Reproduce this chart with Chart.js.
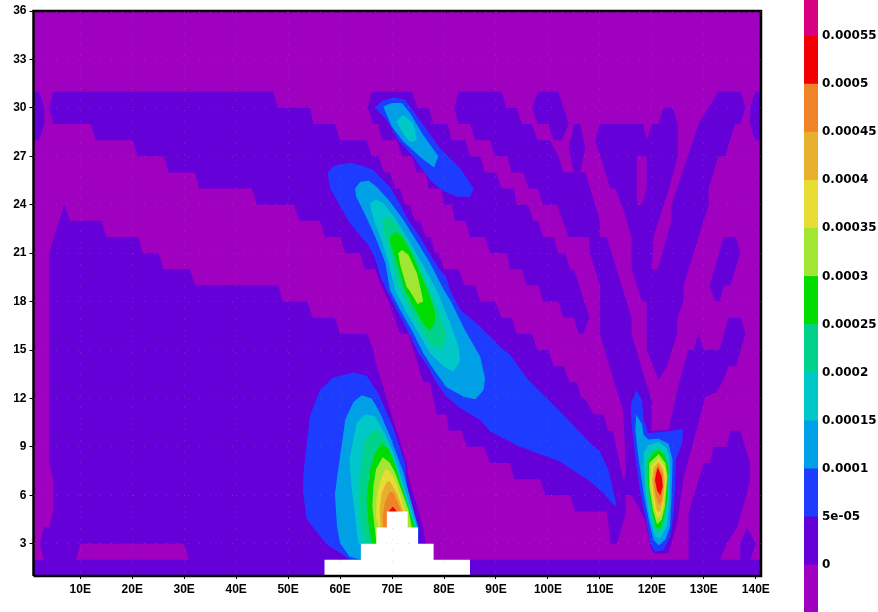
<!DOCTYPE html>
<html>
<head>
<meta charset="utf-8">
<style>
  html, body { margin: 0; padding: 0; background: #fff; }
  canvas { position: absolute; top: 0; }
</style>
</head>
<body>
<canvas id="map" width="878" height="612" style="left:0"></canvas>
<canvas id="bar" width="74" height="612" style="left:804px"></canvas>

<script src="https://cdn.jsdelivr.net/npm/chart.js"></script>
<script>
  // axes
  const lonTicks = [10, 20, 30, 40, 50, 60, 70, 80, 90, 100, 110, 120, 130, 140];
  const latTicks = [3, 6, 9, 12, 15, 18, 21, 24, 27, 30, 33, 36];

  // colour key
  const keyLevels = [0, 5e-5, 1e-4, 1.5e-4, 2e-4, 2.5e-4, 3e-4, 3.5e-4, 4e-4, 4.5e-4, 5e-4, 5.5e-4];
  const keyLabels = ['0', '5e-05', '0.0001', '0.00015', '0.0002', '0.00025', '0.0003', '0.00035', '0.0004', '0.00045', '0.0005', '0.00055'];
  const keyColors = ['#a000c0', '#6600d8', '#1e3cff', '#00a0e6', '#00c8c8', '#00d28c', '#00dc00', '#a0e632', '#e6dc32', '#e6af2d', '#f08228', '#f00000', '#d80080'];

  // contour outlines as [lon, lat]
  const baseField = [[1, 1], [1, 36], [141, 36], [141, 1]];

  const zeroSouthWest = [[1, 1], [1, 2], [3, 2], [2.2, 3], [3, 4], [4, 4], [4.8, 5], [4.8, 7], [4, 8], [4, 21], [6.9, 24], [8, 23], [14, 23], [15.1, 22], [21.2, 22], [22, 21], [25.1, 21], [26, 20], [31.1, 20], [32.1, 19], [48.1, 19], [49, 18], [53.6, 18], [54.8, 17], [59, 17], [60, 16], [65.2, 16], [66.4, 15], [66.7, 14.4], [72.8, 8], [73.1, 7.2], [76, 4], [76.5, 3], [78, 2], [141, 2], [141, 1]];
  const zeroBand = [[4, 30], [4.8, 31], [47.1, 31], [48, 30], [54.2, 30], [54.9, 29], [59, 29], [60, 28], [65.1, 28], [66.1, 27], [67.4, 27], [68.5, 26], [69.6, 26], [70.6, 25], [71.5, 25], [72.5, 24], [73.4, 24], [74.4, 23], [75.4, 23], [76.5, 22], [77.4, 22], [78.3, 21], [79, 21], [80, 20], [82.8, 20], [84, 19], [86, 19], [87, 18], [89.8, 18], [91.1, 17], [93, 17], [94, 16], [96.9, 16], [98, 15], [100.1, 15], [101.1, 14], [103, 14], [104.2, 13], [105.5, 13], [106.5, 12], [107.2, 12], [108.8, 11], [110.7, 11], [111.6, 10], [112.5, 10], [114.5, 6.95], [115, 7.4], [114.5, 11.2], [112.6, 13.15], [110, 16], [110, 19], [108.1, 21], [107.8, 22], [104, 22], [101.7, 24], [99.1, 24], [98, 25], [96.3, 25], [95.2, 26], [93, 26], [92.1, 27], [89.8, 27], [88.9, 28], [86, 28], [85, 29], [82.8, 29], [82, 30], [82.8, 31], [91.1, 31], [92, 30], [94, 30], [95, 29], [96.9, 29], [98, 28], [100.4, 28], [102, 27], [103, 26], [107.2, 26], [110, 23], [110, 22], [111.3, 22], [116.1, 17], [116.1, 16], [118.7, 13.15], [120, 11.9], [119.9, 10.05], [120, 10], [123.2, 10.05], [125.4, 13.15], [127, 15], [128, 15], [129, 16], [129.9, 15], [133, 15], [134.75, 17], [137.1, 17], [138, 16], [136.2, 14], [134.75, 14], [133.8, 13.15], [132.5, 12.4], [130.3, 12.1], [127.05, 8.2], [126.1, 7.1], [124.9, 4.3], [123.2, 2.4], [120.6, 2.4], [119.9, 2.6], [118.7, 4.5], [116.1, 6], [114.9, 6], [115, 4.9], [113.3, 3], [112.1, 3], [111.3, 5], [105.2, 5], [104.3, 6], [99.5, 6], [98.5, 7], [93.5, 7], [92.7, 8], [88.9, 8], [87.6, 9], [84.4, 9], [83.4, 10], [80.9, 10], [80.5, 11], [78.6, 11], [77.3, 13], [76, 13], [73.15, 16], [71.55, 16], [69.3, 18], [68.3, 18.7], [66.7, 20], [64.8, 20], [63.85, 21], [61, 21], [60, 22], [57.1, 22], [56.1, 23], [52.2, 23], [51.1, 24], [44, 24], [43, 25], [32.9, 25], [32.1, 26], [27, 26], [26.1, 27], [21, 27], [20.1, 28], [13, 28], [12, 29], [4.8, 29]];
  const zeroBlob = [[66.1, 31], [73.8, 31], [74.9, 30], [77, 30], [78, 29], [80.7, 29], [81.5, 28], [84.06, 28], [85, 27], [87, 27], [87.9, 26], [90, 26], [91.1, 25], [93.4, 25], [94, 24], [96.2, 24], [97.2, 23], [98, 23], [99.1, 22], [101.1, 22], [102, 21], [103.3, 21], [104.3, 20], [105, 20], [108, 17], [106.8, 16], [105.9, 16], [105, 17], [103, 17], [102, 18], [99.1, 18], [98.2, 19], [95.9, 19], [95, 20], [92.7, 20], [92.1, 21], [88.9, 21], [87.9, 22], [85, 22], [84.1, 23], [82.1, 23], [81.5, 24], [80, 24], [79.5, 25], [77, 25], [76.5, 26], [74.8, 26], [73.8, 27], [71.9, 27], [70.9, 28], [68, 28], [67.4, 29], [66.4, 29], [65.3, 30]];
  const zeroFork = [[109.1, 28], [110, 29], [118.3, 29], [119, 28], [120, 29], [121.3, 29], [122.2, 30], [124, 30], [125, 29], [125, 27], [123.2, 24.9], [120.3, 22], [120, 20], [121.1, 20], [123.8, 23], [123.8, 24], [124.8, 25], [129, 29], [130.9, 30], [132.8, 31], [137.1, 31], [138, 30], [137, 29], [136, 29], [134.1, 27], [132.8, 27], [130.9, 25], [130.9, 24], [126.1, 19], [126.1, 18], [124.9, 17], [124.9, 16], [122.9, 14], [121.3, 13.15], [119, 15], [119, 18], [118.1, 18], [116.1, 20], [116.1, 22], [114.2, 24], [112.9, 25], [112, 25]];
  const zeroLobeA = [[97, 30], [98, 31], [102, 31], [104, 29], [102.7, 28], [101.1, 28], [100.1, 29], [98, 29]];
  const zeroLobeB = [[105, 29], [106.2, 29], [107.2, 27.5], [106.2, 26], [105, 26], [104, 27.5]];
  const zeroLobeC = [[139.9, 31], [141, 31], [141, 28], [139.9, 28], [138.9, 29], [138.9, 30]];
  const zeroLobeD = [[133.8, 22], [136.2, 22], [137, 21], [135.1, 19], [133.9, 19], [133, 18], [132.2, 18], [131.1, 19]];
  const zeroLobeE = [[127.05, 2], [127.05, 4.9], [130, 8], [131.2, 8], [131.9, 9], [134.4, 9], [135.1, 10], [137, 10], [138.9, 8], [138.9, 7], [138.2, 6], [136.4, 4], [134.4, 3], [133.1, 2]];
  const zeroLobeF = [[137, 3], [138.3, 4], [140, 3], [138.9, 2], [137, 2]];
  const zeroLobeG = [[1, 31], [2.1, 31], [3.1, 30], [3.1, 29], [2.1, 28], [1, 28]];
  const holeSouth = [[9.2, 2], [10, 3], [30, 3], [30.9, 2]];
  const holeFork = [[117.1, 27], [119, 27], [119, 25], [118.1, 24], [117.1, 24]];

  const b5Lobe = [[61.8, 2], [60.6, 2.3], [57.4, 2.96], [53.6, 4.5], [52.9, 6.1], [52.9, 7.2], [53.3, 8.4], [54.2, 10.9], [56.1, 12.5], [58.7, 13.3], [62.6, 13.6], [65.1, 13.4], [67.4, 12.3], [70.3, 10.1], [72.5, 8], [73, 6.15], [75.2, 4], [75, 2]];
  const b5Blob = [[66.74, 30], [68, 30.43], [70.3, 30.66], [72.5, 30.5], [74.4, 29.67], [76.7, 28.63], [79.25, 27.5], [83.1, 26.26], [85.7, 25], [85, 24.5], [82.5, 24.5], [79.6, 24.9], [77.3, 25.54], [73.8, 27.1], [71.2, 28], [69, 29.25]];
  const b5Plume = [[57.6, 25.95], [58.7, 26.4], [61.9, 26.6], [64.8, 26.35], [66.4, 26.15], [69.6, 25.1], [71.6, 24], [73.2, 23], [75.4, 22], [77.2, 21], [79.1, 20], [80.4, 19.5], [81.2, 18.7], [83.1, 17.5], [86.95, 16.45], [90.8, 15.2], [92.7, 14.7], [96.2, 13.15], [102.3, 11.2], [108.1, 9.25], [110, 8.7], [111.6, 7.6], [113.1, 5.5], [112.9, 5.3], [110.6, 6.15], [108.1, 6.85], [102.3, 8.1], [94.6, 9], [88.9, 9.95], [86.95, 10.67], [83.1, 11.4], [80.5, 12.1], [78.6, 12.94], [76.7, 14.07], [75.1, 14.8], [73.15, 16.1], [70.9, 17.5], [69, 18.7], [68, 19.35], [66.7, 20.7], [65.45, 21.5], [63.85, 22.1], [61.9, 22.85], [60, 23.9], [58.1, 25]];
  const b5Core = [[116, 11.7], [117, 12.5], [118.1, 11.9], [118.4, 10.7], [119.3, 9.85], [122.9, 9.95], [124.8, 10.05], [126, 10.1], [125.8, 9.2], [124.6, 8.2], [124.5, 6.95], [124.2, 4.9], [123.5, 3.45], [122.2, 2.6], [120.6, 2.5], [119.7, 3], [119, 4.3], [117.8, 6.1], [116.8, 8.4], [116, 10.7]];

  const b10Lobe = [[64, 2], [61.8, 2.2], [60, 3.05], [59.4, 4.1], [59, 6.1], [59.9, 8.2], [61, 10.7], [62.6, 11.8], [64.2, 12.2], [66.1, 12], [67.7, 11.1], [69.6, 9.65], [72.2, 7.4], [75, 4], [75, 2]];
  const b10Blob = [[68.3, 30.08], [69.95, 30.3], [71.9, 30.3], [73.5, 29.67], [76, 28.3], [78.9, 27], [78.1, 26.3], [76, 26.8], [72.2, 27.9], [69.95, 28.84]];
  const b10Plume = [[62.9, 25], [63.85, 25.4], [65.45, 25.5], [67.05, 25.1], [69.6, 24.2], [72.2, 23.05], [74.8, 21.7], [77.3, 20.4], [80, 18.7], [81.2, 18.1], [84, 16.25], [86.95, 14.6], [87.9, 13.25], [87.6, 12.5], [86, 11.95], [83.75, 12.1], [80.5, 12.7], [78.3, 13.66], [76, 14.8], [74.1, 16.04], [71.55, 17.5], [69.6, 18.7], [68.7, 20.4], [67.4, 21.5], [66.1, 22.5], [64.5, 23.6], [63.1, 24.5]];
  const b10Core = [[117, 11], [118.1, 10.4], [118.4, 9.75], [119.3, 9.45], [121.3, 9.5], [123.2, 9.2], [124, 8.2], [123.8, 6.1], [123.5, 4.1], [122.6, 3.25], [121.3, 2.9], [120.3, 3.25], [119.5, 4.3], [118.4, 6.1], [117.4, 8.4], [116.8, 10.05]];

  const b15Lobe = [[63.5, 3], [62.9, 4.7], [62.2, 6.55], [61.8, 8.2], [63.2, 10.5], [64.8, 11], [66.7, 10.9], [68.4, 9.95], [70.3, 8.6], [72.5, 6.35], [74.8, 4], [74.8, 3]];
  const b15Blob = [[70.9, 29.15], [72.1, 29.56], [74.1, 29.05], [74.76, 28], [73.5, 27.87], [71.9, 28.5]];
  const b15Plume = [[65.8, 24.1], [66.9, 24.3], [68.3, 24.1], [70.6, 23.15], [73.2, 21.8], [75.7, 20.4], [78.6, 18.7], [81.2, 16.65], [82.8, 15.2], [83.1, 14.3], [81.8, 13.66], [79.9, 14], [77.3, 14.8], [74.75, 16.25], [72.5, 17.5], [70.6, 18.7], [69.3, 20.4], [68, 21.8], [66.7, 22.85], [65.9, 23.8]];
  const b15Core = [[118.4, 8.6], [119.3, 9.1], [121.3, 9.3], [122.9, 8.9], [123.5, 7.99], [123.4, 5.9], [122.9, 4.1], [121.6, 3.35], [120.6, 3.45], [119.5, 4.7], [118.7, 6.35]];

  const b20Lobe = [[65, 3], [64.2, 3.7], [63.5, 5.7], [63.7, 7], [64.8, 9.45], [66.1, 9.96], [67.4, 10.06], [68.7, 9.45], [70.9, 7.4], [72.5, 5.5], [74.6, 4], [74.6, 3]];
  const b20Plume = [[68.15, 23.05], [69.1, 23.3], [70.3, 23.05], [72.5, 22], [75.1, 20.4], [77.3, 18.7], [78.9, 17.5], [80.2, 16.25], [80.2, 15.4], [79.25, 14.96], [77.3, 15.4], [75.1, 16.45], [73.15, 17.7], [71.55, 18.7], [70.6, 19.75], [69.5, 21.2], [68.3, 22.4]];
  const b20Core = [[118.7, 8.2], [119.7, 8.7], [121.3, 9], [122.6, 8.7], [123.3, 7.8], [123, 5.5], [122.4, 4.3], [121.5, 3.65], [120.6, 3.85], [119.7, 5.1], [118.9, 6.55]];

  const b25Lobe = [[66.1, 3], [65.45, 4.3], [65.1, 5.93], [65.8, 7.6], [66.7, 8.6], [68, 9.23], [69.3, 8.9], [70.3, 8.2], [72.8, 5.6], [74.4, 4], [74.4, 3]];
  const b25Plume = [[69.6, 22], [70.6, 22.3], [71.9, 22], [73.8, 21], [76, 19.3], [77.3, 18.3], [78.3, 17.3], [78.2, 16.65], [77.2, 16.2], [76, 16.65], [74.1, 17.7], [72.5, 18.7], [71.9, 19.3], [70.9, 20.4], [69.75, 21.5]];
  const b25Core = [[119.3, 8.1], [120.3, 8.65], [121.3, 8.8], [122.4, 8.5], [123.2, 7.7], [122.9, 5.7], [122.2, 4.5], [121.6, 3.9], [120.8, 4], [120, 5], [119.3, 6.55]];

  const b30Lobe = [[67, 3], [66.7, 3.87], [66.2, 5.3], [66.4, 6.55], [66.9, 7.6], [68.2, 8.37], [69.6, 8], [70.6, 7.4], [73.15, 5.1], [73.8, 4], [73.8, 3]];
  const b30Plume = [[71.2, 21], [71.9, 21.2], [73.15, 20.9], [74.8, 19.75], [75.7, 18.5], [76, 18], [74.9, 17.85], [73.35, 18.7], [72.8, 18.9], [71.55, 20.3]];
  const b30Core = [[119.5, 8], [121.3, 8.55], [122.6, 8], [123, 7.2], [122.5, 5.3], [121.9, 4.5], [121, 4.2], [120.2, 5.1], [119.5, 6.55]];

  const b35Lobe = [[67.4, 4], [66.9, 4.7], [67.06, 5.93], [67.6, 6.76], [68.66, 7.6], [69.6, 7.5], [70.6, 6.96], [72.5, 5.1], [73.15, 4]];
  const b35Core = [[119.9, 7.8], [121.3, 8.3], [122.6, 7.75], [122.8, 7], [122.2, 5.3], [121.6, 4.7], [121, 4.6], [120.3, 5.5], [119.7, 6.75]];

  const b40Lobe = [[67.8, 4], [67.6, 5.1], [68, 6.14], [69, 6.86], [69.6, 6.86], [70.9, 6.14], [72.5, 4.7], [72.8, 4]];
  const b40Core = [[120.3, 7.7], [121.3, 8.1], [122.2, 7.6], [122.5, 7], [122.2, 5.7], [121.6, 5], [121, 5], [120.3, 6.15], [120, 7]];

  const b45Lobe = [[68.3, 4], [68.2, 4.7], [68.66, 5.6], [69.6, 6.24], [70.3, 6.14], [71.55, 5.2], [72.5, 4]];
  const b45Core = [[120.5, 7.4], [121.3, 7.9], [122.1, 7.3], [122.2, 6.55], [121.9, 5.7], [121.4, 5.4], [120.8, 5.9], [120.4, 6.75]];

  const b50Lobe = [[69.1, 4.9], [70.14, 5.31], [71.2, 4.9]];
  const b50Core = [[120.8, 7.3], [121.1, 7.75], [121.9, 7.15], [122.1, 6.55], [121.6, 6], [121, 6.3], [120.6, 6.95]];

  const undefinedArea = [[57, 1], [57, 2], [64, 2], [64, 3], [67, 3], [67, 4], [69, 4], [69, 5], [73, 5], [73, 4], [75, 4], [75, 3], [78, 3], [78, 2], [85, 2], [85, 1]];
  const frame = [[1, 1], [1, 36], [141, 36], [141, 1], [1, 1]];

  // paint order, lowest first
  const layers = [
    [keyColors[0], [baseField]],
    [keyColors[1], [zeroSouthWest, zeroBand, zeroBlob, zeroFork, zeroLobeA, zeroLobeB, zeroLobeC, zeroLobeD, zeroLobeE, zeroLobeF, zeroLobeG]],
    [keyColors[0], [holeSouth, holeFork]],
    [keyColors[2], [b5Lobe, b5Blob, b5Plume, b5Core]],
    [keyColors[3], [b10Lobe, b10Blob, b10Plume, b10Core]],
    [keyColors[4], [b15Lobe, b15Blob, b15Plume, b15Core]],
    [keyColors[5], [b20Lobe, b20Plume, b20Core]],
    [keyColors[6], [b25Lobe, b25Plume, b25Core]],
    [keyColors[7], [b30Lobe, b30Plume, b30Core]],
    [keyColors[8], [b35Lobe, b35Core]],
    [keyColors[9], [b40Lobe, b40Core]],
    [keyColors[10], [b45Lobe, b45Core]],
    [keyColors[11], [b50Lobe, b50Core]],
    ['#ffffff', [undefinedArea]]
  ];

  const datasets = [];
  layers.forEach(([color, polys]) => {
    polys.forEach(poly => datasets.push({
      data: poly,
      showLine: true,
      fill: 'shape',
      backgroundColor: color,
      borderWidth: 0,
      pointRadius: 0,
      tension: 0
    }));
  });
  datasets.push({
    data: frame,
    showLine: true,
    fill: false,
    borderColor: '#000',
    borderWidth: 2.5,
    pointRadius: 0,
    tension: 0,
    clip: false
  });
  // chart.js paints higher order first
  datasets.forEach((d, i) => { d.order = datasets.length - i; });

  const tickFont = { family: '"Liberation Sans", sans-serif', size: 12, weight: 'bold' };

  new Chart(document.getElementById('map'), {
    type: 'scatter',
    data: { datasets: datasets },
    options: {
      responsive: false,
      animation: false,
      layout: { padding: { left: 0, top: 11, right: 117, bottom: 0 } },
      plugins: { legend: { display: false }, tooltip: { enabled: false } },
      scales: {
        x: {
          type: 'linear',
          min: 1,
          max: 141,
          afterBuildTicks: axis => { axis.ticks = lonTicks.map(v => ({ value: v })); },
          afterFit: axis => { axis.height = 36; },
          border: { display: false, dash: [1, 10] },
          grid: { color: 'rgba(130,170,120,0.3)', tickColor: '#000', tickLength: 3, z: 1 },
          ticks: { color: '#000', font: tickFont, padding: 3, autoSkip: false, maxRotation: 0, callback: v => v + 'E' }
        },
        y: {
          type: 'linear',
          min: 1,
          max: 36,
          afterBuildTicks: axis => { axis.ticks = latTicks.map(v => ({ value: v })); },
          afterFit: axis => { axis.width = 33.5; },
          border: { display: false, dash: [1, 10] },
          grid: { color: 'rgba(130,170,120,0.3)', tickColor: '#000', tickLength: 4, z: 1 },
          ticks: { color: '#000', font: tickFont, padding: 3, autoSkip: false, callback: v => String(v) }
        }
      }
    }
  });

  // colour key: one floating bar per contour band
  const keyEdges = [-4.89e-5].concat(keyLevels, [5.874e-4]);
  new Chart(document.getElementById('bar'), {
    type: 'bar',
    data: {
      labels: ['key'],
      datasets: keyColors.map((c, i) => ({
        data: [[keyEdges[i], keyEdges[i + 1]]],
        backgroundColor: c,
        grouped: false,
        barPercentage: 1,
        categoryPercentage: 1
      }))
    },
    options: {
      responsive: false,
      animation: false,
      plugins: { legend: { display: false }, tooltip: { enabled: false } },
      scales: {
        x: { display: false },
        y: {
          position: 'right',
          min: keyEdges[0],
          max: keyEdges[keyEdges.length - 1],
          afterBuildTicks: axis => { axis.ticks = keyLevels.map(v => ({ value: v })); },
          afterFit: axis => { axis.width = 60; axis.paddingTop = 0; axis.paddingBottom = 0; },
          border: { display: false },
          grid: { display: false, drawTicks: false },
          ticks: {
            color: '#000',
            font: { family: '"DejaVu Sans", sans-serif', size: 12, weight: 'bold' },
            padding: 4,
            autoSkip: false,
            callback: (v, i) => keyLabels[i]
          }
        }
      }
    }
  });
</script>
</body>
</html>
